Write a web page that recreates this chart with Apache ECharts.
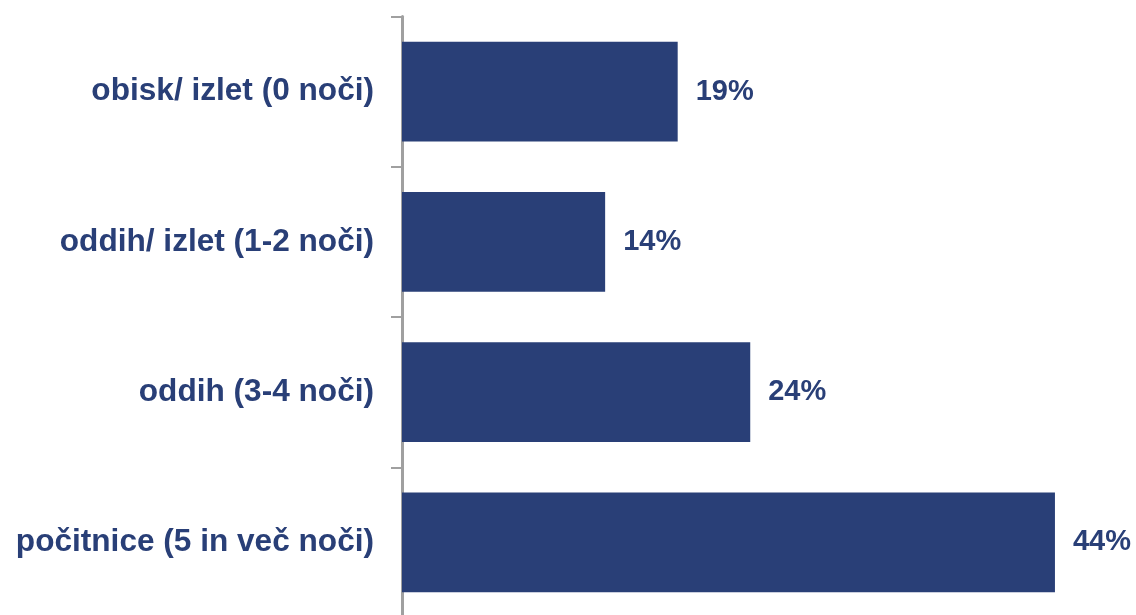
<!DOCTYPE html>
<html>
<head>
<meta charset="utf-8">
<script src="https://cdn.jsdelivr.net/npm/echarts@6/dist/echarts.min.js"></script>
<style>
html,body{margin:0;padding:0;background:#fff;overflow:hidden;width:1136px;height:615px;}
#c{width:1136px;height:620px;}
</style>
</head>
<body>
<div id="c"></div>
<script>
var categories = ["obisk/ izlet (0 noči)", "oddih/ izlet (1-2 noči)", "oddih (3-4 noči)", "počitnice (5 in več noči)"];
var values = [19, 14, 24, 45];
var valueLabels = ["19%", "14%", "24%", "44%"];

var navy = "#293f77";
var chart = echarts.init(document.getElementById('c'), null, {renderer: 'canvas'});
chart.setOption({
  animation: false,
  backgroundColor: '#ffffff',
  grid: {left: 402, top: 16.5, height: 601, width: 725.5, containLabel: false},
  xAxis: {
    type: 'value', min: 0, max: 50, show: false
  },
  yAxis: {
    type: 'category', data: categories, inverse: true,
    axisLine: {show: true, lineStyle: {color: '#a0a0a0', width: 3}},
    axisTick: {show: true, length: 11, lineStyle: {color: '#a0a0a0', width: 2}},
    axisLabel: {
      margin: 28, color: navy, fontFamily: 'Liberation Sans, Arial, sans-serif',
      fontWeight: 'bold', fontSize: 31.6
    }
  },
  series: [{
    type: 'bar', data: values, barWidth: '66.5%',
    itemStyle: {color: navy},
    label: {
      show: true, position: 'right', distance: 18, color: navy,
      fontFamily: 'Liberation Sans, Arial, sans-serif', fontWeight: 'bold', fontSize: 29,
      formatter: function (p) { return valueLabels[p.dataIndex]; }
    }
  }]
});
</script>
</body>
</html>
